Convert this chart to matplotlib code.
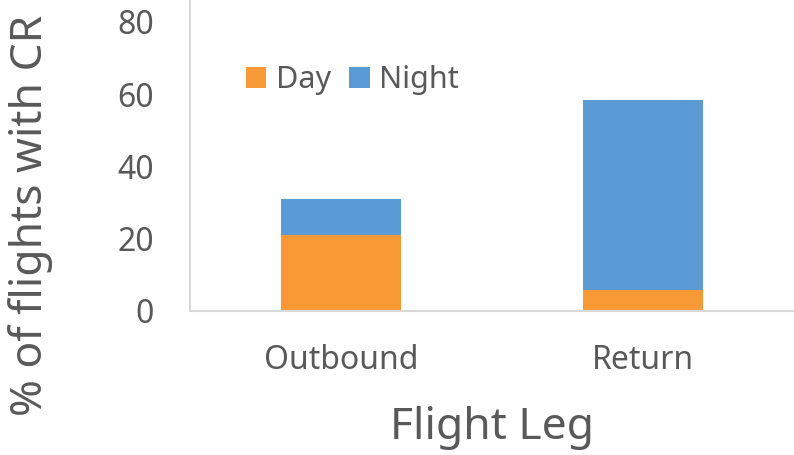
import matplotlib.pyplot as plt
import numpy as np

# Values (% of flights with CR)
legs = ["Outbound", "Return"]
day = [21.0, 5.8]
night = [10.0, 52.5]
y_ticks = [0, 20, 40, 60, 80]

ORANGE = "#F79A36"
BLUE = "#5B9BD5"
TEXT = "#595959"
AXIS = "#D9D9D9"

plt.rcParams["font.family"] = ["Noto Sans", "DejaVu Sans"]


def main() -> None:
    fig = plt.figure(figsize=(7.94, 4.55), dpi=100)
    ax = fig.add_axes([0.2393, 0.3165, 0.7607, 0.6835])

    x = np.arange(len(legs))
    ax.bar(x, day, width=0.40, color=ORANGE, label="Day")
    ax.bar(x, night, width=0.40, bottom=day, color=BLUE, label="Night")

    ax.set_xlim(-0.5, 1.5)
    ax.set_ylim(0, 86)
    ax.set_yticks(y_ticks)
    ax.set_xticks(x)
    ax.set_xticklabels(legs)

    for side in ("top", "right"):
        ax.spines[side].set_visible(False)
    for side in ("left", "bottom"):
        ax.spines[side].set_color(AXIS)
        ax.spines[side].set_linewidth(1.5)

    ax.tick_params(axis="y", length=0, pad=26, labelsize=23, colors=TEXT)
    ax.tick_params(axis="x", length=0, pad=24, labelsize=23, colors=TEXT)

    ax.set_xlabel("Flight Leg", fontsize=32, color=TEXT, labelpad=21)
    # y label sits a little below the axes centre in the reference
    fig.text(0.039, 0.527, "% of flights with CR", rotation=90, fontsize=32,
             color=TEXT, ha="center", va="center")

    ax.legend(loc="upper left", bbox_to_anchor=(0.072, 0.83), ncol=2,
              frameon=False, fontsize=22, labelcolor=TEXT,
              handlelength=0.68, handleheight=0.68, handletextpad=0.3,
              columnspacing=0.6, borderaxespad=0)

    fig.savefig("out.png", dpi=100)
    plt.close(fig)


if __name__ == "__main__":
    main()
